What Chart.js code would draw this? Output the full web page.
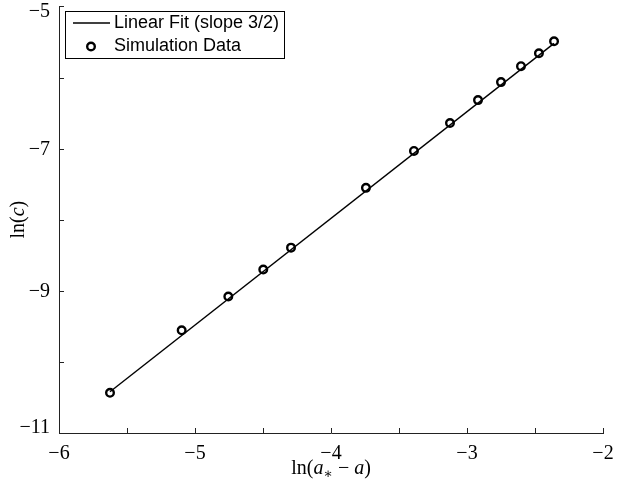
<!DOCTYPE html>
<html>
<head>
<meta charset="utf-8">
<script src="https://cdn.jsdelivr.net/npm/chart.js@4"></script>
<style>
  body { margin: 0; background: #fff; }
  canvas { display: block; }
</style>
</head>
<body>
<canvas id="fitChart" width="629" height="495"></canvas>
<script>
// simulation points
const simX = [-5.625, -5.098, -4.755, -4.498, -4.294, -3.743, -3.390, -3.125, -2.919, -2.750, -2.603, -2.471, -2.360];
const simY = [-10.435, -9.556, -9.080, -8.701, -8.393, -7.552, -7.033, -6.640, -6.318, -6.065, -5.841, -5.659, -5.491];

// linear fit (slope 3/2) end points
const fitX = [-5.625, -2.360];
const fitY = [-10.42, -5.52];

const xTicks = [-6, -5, -4, -3, -2];
const yTicks = [-11, -9, -7, -5];

const serif = "'Liberation Serif', 'DejaVu Serif', serif";
const sans = "'Liberation Sans', Arial, sans-serif";

function minus(v) {
  return v < 0 ? "\u2212" + Math.abs(v) : String(v);
}

// ticks pointing into the plot, plus y labels nudged inside at the ends
const innerTicks = {
  id: "innerTicks",
  afterDraw(chart) {
    const ctx = chart.ctx;
    const area = chart.chartArea;
    const x = chart.scales.x, y = chart.scales.y;
    ctx.save();
    ctx.strokeStyle = "#222";
    ctx.lineWidth = 1;
    x.ticks.forEach(t => {
      const px = Math.round(x.getPixelForValue(t.value)) + 0.5;
      ctx.beginPath();
      ctx.moveTo(px, area.bottom);
      ctx.lineTo(px, area.bottom - 5);
      ctx.stroke();
    });
    ctx.fillStyle = "#000";
    ctx.font = "20px " + serif;
    ctx.textAlign = "right";
    ctx.textBaseline = "middle";
    y.ticks.forEach(t => {
      const py = Math.round(y.getPixelForValue(t.value)) + 0.5;
      ctx.beginPath();
      ctx.moveTo(area.left, py);
      ctx.lineTo(area.left + 5, py);
      ctx.stroke();
      if (yTicks.includes(t.value)) {
        const ly = Math.min(Math.max(py, area.top + 5), area.bottom - 5);
        ctx.fillText(minus(t.value), area.left - 9, ly);
      }
    });
    ctx.restore();
  }
};

// draw a run of text pieces with mixed fonts, centred on cx
function drawPieces(ctx, pieces, cx, cy) {
  let total = 0;
  pieces.forEach(p => { ctx.font = p.font; total += ctx.measureText(p.text).width; });
  let cur = cx - total / 2;
  pieces.forEach(p => {
    ctx.font = p.font;
    ctx.fillText(p.text, cur, cy + (p.dy || 0));
    cur += ctx.measureText(p.text).width;
  });
}

const axisTitles = {
  id: "axisTitles",
  afterDraw(chart) {
    const ctx = chart.ctx;
    const area = chart.chartArea;
    ctx.save();
    ctx.fillStyle = "#000";
    ctx.textBaseline = "alphabetic";
    ctx.textAlign = "left";
    const up = "20px " + serif, it = "italic 20px " + serif, sub = "14px " + serif;
    drawPieces(ctx, [
      { text: "ln(", font: up },
      { text: "a", font: it },
      { text: "\u2217", font: sub, dy: 4 },
      { text: " \u2212 ", font: up },
      { text: "a", font: it },
      { text: ")", font: up }
    ], (area.left + area.right) / 2, area.bottom + 41);

    ctx.translate(24, (area.top + area.bottom) / 2);
    ctx.rotate(-Math.PI / 2);
    drawPieces(ctx, [
      { text: "ln(", font: up },
      { text: "c", font: it },
      { text: ")", font: up }
    ], 0, 0);
    ctx.restore();
  }
};

const boxLegend = {
  id: "boxLegend",
  afterDraw(chart) {
    const ctx = chart.ctx;
    const fit = chart.data.datasets[0], sim = chart.data.datasets[1];
    ctx.save();
    ctx.fillStyle = "#fff";
    ctx.fillRect(65, 11, 219, 47);
    ctx.strokeStyle = "#000";
    ctx.lineWidth = 1;
    ctx.strokeRect(65.5, 11.5, 219, 47);

    ctx.strokeStyle = fit.borderColor;
    ctx.lineWidth = 1.4;
    ctx.beginPath();
    ctx.moveTo(73, 23);
    ctx.lineTo(110, 23);
    ctx.stroke();

    ctx.strokeStyle = sim.borderColor;
    ctx.lineWidth = sim.pointBorderWidth;
    ctx.beginPath();
    ctx.arc(91, 46.5, sim.pointRadius, 0, Math.PI * 2);
    ctx.stroke();

    ctx.fillStyle = "#000";
    ctx.font = "18px " + sans;
    ctx.textBaseline = "middle";
    ctx.fillText(fit.label, 114, 23);
    ctx.fillText(sim.label, 114, 46);
    ctx.restore();
  }
};

new Chart(document.getElementById("fitChart"), {
  type: "scatter",
  data: {
    datasets: [{
      label: "Linear Fit (slope 3/2)",
      data: fitX.map((x, i) => ({ x: x, y: fitY[i] })),
      showLine: true,
      borderColor: "#000",
      borderWidth: 1.4,
      pointRadius: 0
    }, {
      label: "Simulation Data",
      data: simX.map((x, i) => ({ x: x, y: simY[i] })),
      borderColor: "#000",
      backgroundColor: "rgba(0,0,0,0)",
      pointRadius: 3.8,
      pointBorderWidth: 2.4
    }]
  },
  options: {
    responsive: false,
    animation: false,
    layout: { padding: { top: 5, right: 26, left: 0, bottom: 0 } },
    plugins: {
      legend: { display: false },
      tooltip: { enabled: false }
    },
    scales: {
      x: {
        type: "linear",
        min: -6,
        max: -2,
        afterFit: s => { s.height = 62; s.paddingLeft = 0; s.paddingRight = 0; },
        ticks: {
          stepSize: 0.5,
          autoSkip: false,
          maxRotation: 0,
          padding: 9,
          color: "#000",
          font: { family: serif, size: 20 },
          callback: v => xTicks.includes(v) ? minus(v) : ""
        },
        grid: { drawOnChartArea: false, drawTicks: false },
        border: { display: true, color: "#222", width: 1 }
      },
      y: {
        type: "linear",
        min: -11,
        max: -5,
        afterFit: s => { s.width = 59; s.paddingTop = 0; s.paddingBottom = 0; },
        ticks: {
          stepSize: 1,
          display: false
        },
        grid: { drawOnChartArea: false, drawTicks: false },
        border: { display: true, color: "#222", width: 1 }
      }
    }
  },
  plugins: [innerTicks, axisTitles, boxLegend]
});
</script>
</body>
</html>
